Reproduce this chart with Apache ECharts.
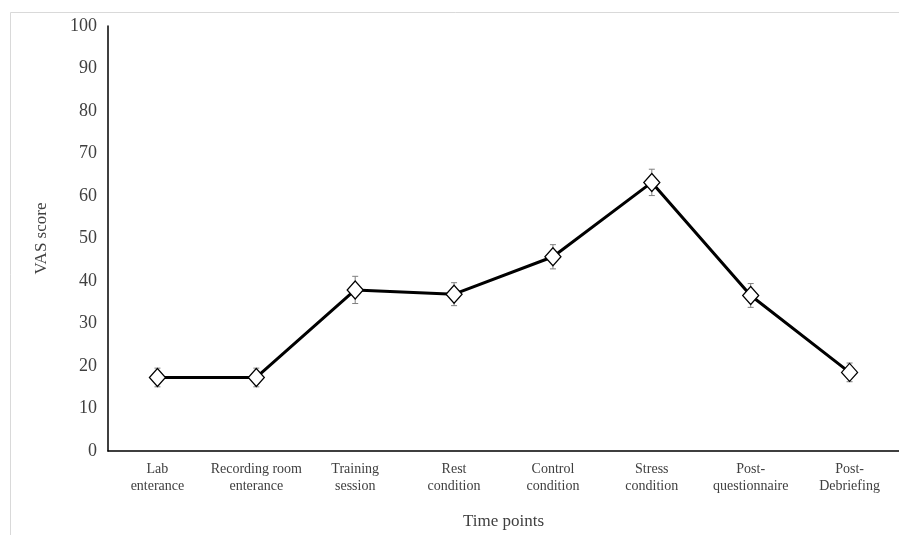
<!DOCTYPE html>
<html>
<head>
<meta charset="utf-8">
<script src="https://cdn.jsdelivr.net/npm/echarts@6/dist/echarts.min.js"></script>
<style>
  html, body { margin: 0; padding: 0; background: #fff; }
  #chart { width: 899px; height: 535px; }
</style>
</head>
<body>
<div id="chart"></div>
<script>
// Time points of the session
const categories = [
  'Lab\nenterance',
  'Recording room\nenterance',
  'Training\nsession',
  'Rest\ncondition',
  'Control\ncondition',
  'Stress\ncondition',
  'Post-\nquestionnaire',
  'Post-\nDebriefing'
];
// Mean VAS score at each time point
const meanScores = [17.3, 17.3, 37.9, 36.9, 45.7, 63.2, 36.6, 18.5];
// Standard error of each mean
const errorSizes = [2.2, 2.2, 3.2, 2.7, 2.85, 3.1, 2.8, 2.2];
// Y-axis range and step
const yMin = 0, yMax = 100, yStep = 10;

const serif = '"Liberation Serif", "DejaVu Serif", serif';

const errorData = meanScores.map((m, i) => [i, m - errorSizes[i], m + errorSizes[i]]);

const chart = echarts.init(document.getElementById('chart'), null, { renderer: 'canvas' });
chart.setOption({
  backgroundColor: '#fff',
  animation: false,
  graphic: [{
    type: 'rect',
    shape: { x: 10.5, y: 12.5, width: 900, height: 540 },
    style: { fill: 'none', stroke: '#d9d9d9', lineWidth: 1 },
    silent: true,
    z: -10
  }],
  grid: { left: 108, right: 0, top: 26, bottom: 83 },
  xAxis: {
    type: 'category',
    data: categories,
    boundaryGap: true,
    name: 'Time points',
    nameLocation: 'middle',
    nameGap: 62,
    nameTextStyle: { fontFamily: serif, fontSize: 17, color: '#404040' },
    axisLine: { lineStyle: { color: '#000', width: 1.5 } },
    axisTick: { show: false },
    axisLabel: {
      fontFamily: serif, fontSize: 14, color: '#404040',
      lineHeight: 17, margin: 10, interval: 0
    },
    splitLine: { show: false }
  },
  yAxis: {
    type: 'value',
    min: yMin, max: yMax, interval: yStep,
    name: 'VAS score',
    nameLocation: 'middle',
    nameGap: 58,
    nameRotate: 90,
    nameTextStyle: { fontFamily: serif, fontSize: 17, color: '#404040' },
    axisLine: { show: true, lineStyle: { color: '#000', width: 1.5 } },
    axisTick: { show: false },
    axisLabel: { fontFamily: serif, fontSize: 18, color: '#404040', margin: 11 },
    splitLine: { show: false }
  },
  series: [
    {
      type: 'custom',
      name: 'error',
      data: errorData,
      z: 1,
      renderItem: function (params, api) {
        const x = api.coord([api.value(0), api.value(1)])[0];
        const lo = api.coord([api.value(0), api.value(1)])[1];
        const hi = api.coord([api.value(0), api.value(2)])[1];
        const cap = 3;
        const style = { stroke: '#7f7f7f', lineWidth: 1 };
        return {
          type: 'group',
          children: [
            { type: 'line', shape: { x1: x, y1: hi, x2: x, y2: lo }, style: style },
            { type: 'line', shape: { x1: x - cap, y1: hi, x2: x + cap, y2: hi }, style: style },
            { type: 'line', shape: { x1: x - cap, y1: lo, x2: x + cap, y2: lo }, style: style }
          ]
        };
      }
    },
    {
      type: 'line',
      name: 'VAS',
      data: meanScores,
      z: 3,
      symbol: 'diamond',
      symbolSize: [16, 18],
      showAllSymbol: true,
      lineStyle: { color: '#000', width: 3 },
      itemStyle: { color: '#fff', borderColor: '#000', borderWidth: 1.3 },
      emphasis: { disabled: true }
    }
  ]
});
</script>
</body>
</html>
